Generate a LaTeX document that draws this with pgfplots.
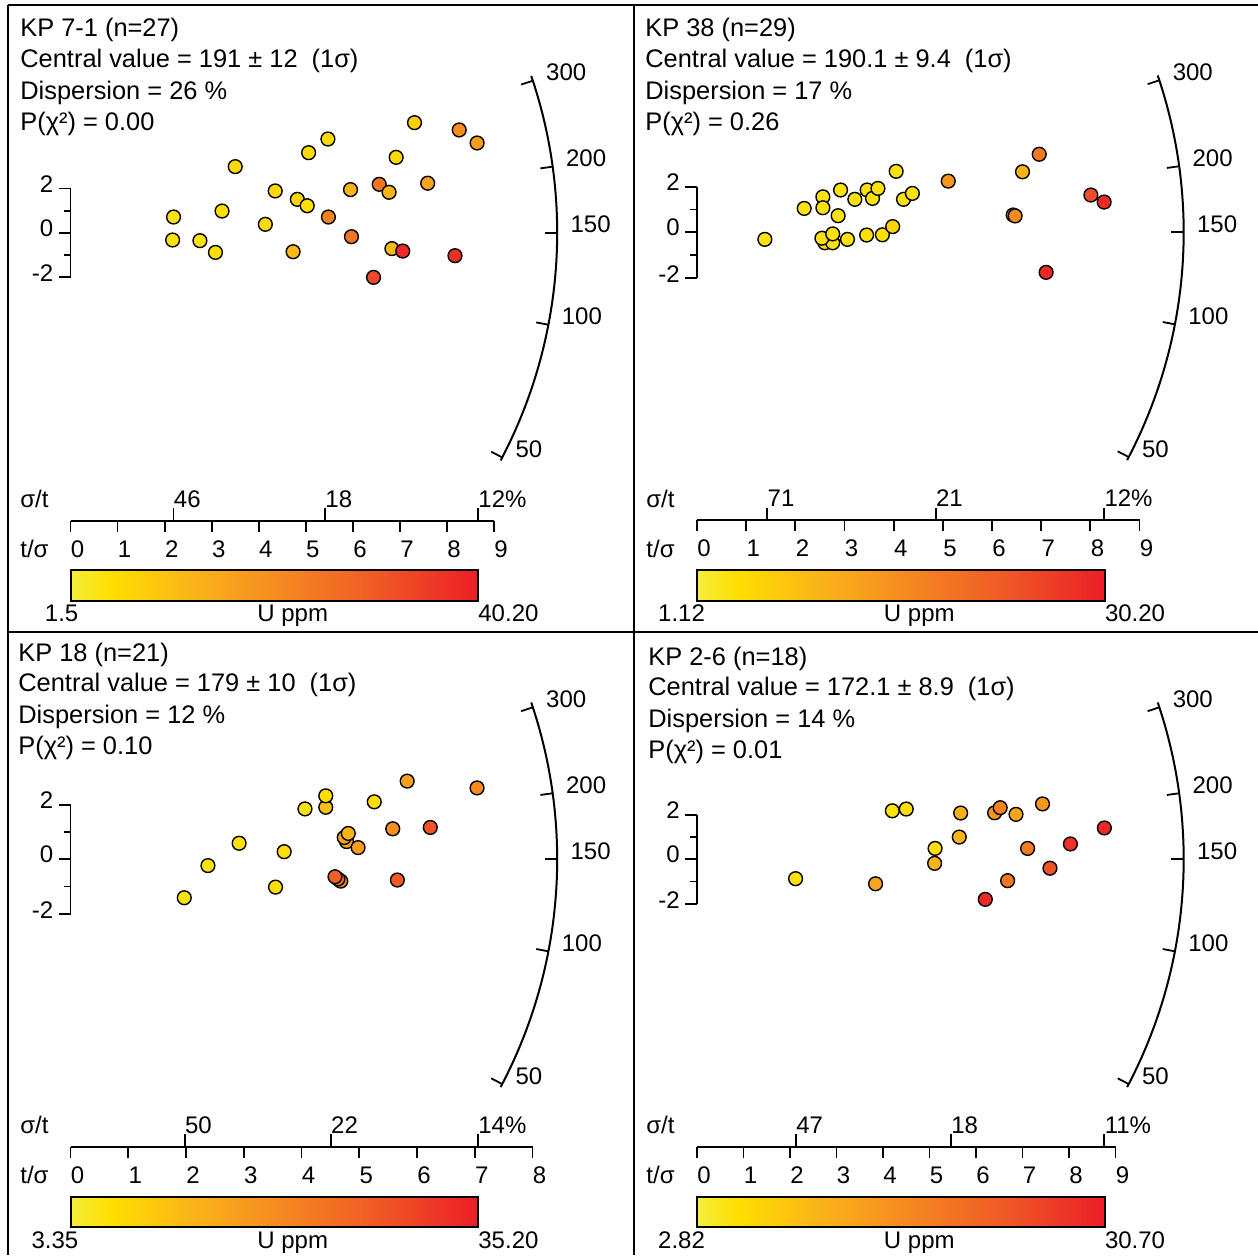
\documentclass[border=0pt]{standalone}
\usepackage{pgfplots}
\pgfplotsset{compat=1.18}
\usepackage{fontspec}
\setmainfont{Liberation Sans}
\pgfplotsset{
  colormap={ypr}{rgb255(0cm)=(244,238,60); rgb255(1cm)=(255,222,0); rgb255(3cm)=(250,180,25); rgb255(5cm)=(246,140,32); rgb255(7.5cm)=(239,90,38); rgb255(10cm)=(236,30,38)},
  radial/.style={hide axis, clip=false, xmin=0, xmax=10, ymin=-15, ymax=15, anchor=west, colormap name=ypr},
  pts/.style={scatter, only marks, mark=*, mark size=3.45pt, scatter src=explicit,
    scatter/use mapped color={draw=black, fill=mapped color}, mark options={line width=0.7pt}},
}
\pgfdeclarehorizontalshading{yprshade}{100bp}{rgb(0bp)=(0.957,0.933,0.235); rgb(25bp)=(0.957,0.933,0.235); rgb(30bp)=(1,0.871,0); rgb(40bp)=(0.980,0.706,0.098); rgb(50bp)=(0.965,0.549,0.125); rgb(62.5bp)=(0.937,0.353,0.149); rgb(75bp)=(0.925,0.118,0.149); rgb(100bp)=(0.925,0.118,0.149)}
\tikzset{axl/.style={line width=0.9pt}, lbl/.style={inner sep=0pt, anchor=base west},
  ttl/.style={inner sep=0pt, anchor=base west, font=\fontsize{12.7}{15}\selectfont}}
% decorations drawn in axis units
\newcommand\scalebar{%
  \draw[axl] (axis cs:0,-2) -- (axis cs:0,2);
  \draw[axl] (axis cs:0,2) -- ([xshift=-6pt]axis cs:0,2);
  \draw[axl] (axis cs:0,0) -- ([xshift=-6pt]axis cs:0,0);
  \draw[axl] (axis cs:0,-2) -- ([xshift=-6pt]axis cs:0,-2);
  \draw[axl] (axis cs:0,1) -- ([xshift=-3.5pt]axis cs:0,1);
  \draw[axl] (axis cs:0,-1) -- ([xshift=-3.5pt]axis cs:0,-1);
  \node[inner sep=0pt, anchor=base east] at ([xshift=-8.5pt,yshift=-1.8pt]axis cs:0,2) {2};
  \node[inner sep=0pt, anchor=base east] at ([xshift=-8.5pt,yshift=-1.8pt]axis cs:0,0) {0};
  \node[inner sep=0pt, anchor=base east] at ([xshift=-8.5pt,yshift=-2.2pt]axis cs:0,-2) {-2};
}
\newcommand\bottomaxis[1]{%
  \draw[axl] (axis cs:0,\yb) -- (axis cs:#1,\yb);
  \pgfplotsinvokeforeach{0,...,#1}{\draw[axl] (axis cs:##1,\yb) -- ([yshift=-5.6pt]axis cs:##1,\yb);
    \node[lbl] at ([yshift=-18.3pt]axis cs:##1,\yb) {##1};}%
}
\newcommand\sigmatick[2]{%
  \draw[axl] (axis cs:#1,\yb) -- ([yshift=6.2pt]axis cs:#1,\yb);
  \node[lbl] at ([yshift=6.7pt]axis cs:#1,\yb) {#2};
}
% arc drawn around a named origin (absolute radius)
\newcommand\arcticks[1]{%
  \draw[line width=1pt] (#1) ++(18.8:243.35pt) arc[start angle=18.8, end angle=-27.9, radius=243.35pt];
  \foreach \a/\l in {18.2/300,7.8/200,0/150,-10.9/100,-27.5/50}{%
    \draw[axl] (#1) ++(\a:243.35pt) -- ++(\a:-6.2pt);
    \path (#1) ++(\a:243.35pt) ++(6.5pt,0pt) node[lbl]{\l};
  }%
}
\newcommand\cbar[7]{% x1 x2 ytop ybot ybase minlabel maxlabel (pixel units)
  \shade[shading=yprshade] (#1,-#3) rectangle (#2,-#4);
  \draw[axl] (#1,-#3) rectangle (#2,-#4);
  \node[inner sep=0pt, anchor=base east] at (#1+8,-#5) {#6};
  \node[inner sep=0pt, anchor=base] at (#1+222,-#5) {U ppm};
  \node[lbl] at (#2,-#5) {#7};
}
\begin{document}
\begin{tikzpicture}[every node/.append style={font=\fontsize{12}{14}\selectfont}]
\begin{scope}[x=0.5pt, y=0.5pt]
\useasboundingbox (0,0) rectangle (1258,-1255);
\draw[line width=0.9pt] (8,-5) -- (1258,-5) (8,-5) -- (8,-1255) (634,-5) -- (634,-1255) (8,-632) -- (1258,-632);
\end{scope}

% ---------------- Panel 1: KP 7-1
\def\yb{-13.03}
\begin{axis}[radial, x=23.53pt, y=11.05pt, at={(35.25pt,-116.35pt)}, point meta min=1.5, point meta max=40.2]
\addplot[pts] table[meta=U]{
x y U
2.19 0.71 4.6
2.17 -0.33 4.6
2.75 -0.36 4.6
3.08 -0.89 5.4
3.22 0.98 5.4
3.50 2.99 6.1
4.14 0.38 6.1
4.35 1.89 6.1
4.73 -0.86 12.3
4.82 1.51 7.3
5.03 1.22 5.4
5.06 3.62 6.1
5.47 4.24 6.1
5.48 0.71 22.8
5.95 1.95 13.1
5.97 -0.18 25.5
6.44 -2.02 33.2
6.56 2.19 25.5
6.77 1.83 13.1
6.83 -0.72 12.3
7.06 -0.83 38.3
6.92 3.41 6.1
7.31 4.98 8.5
7.59 2.24 16.2
8.26 4.65 20.9
8.64 4.06 17.8
8.17 -1.04 37.1
};
\coordinate (O1) at (axis cs:0,0);
\scalebar
\bottomaxis{9}
\sigmatick{2.19}{46}\sigmatick{5.41}{18}\sigmatick{8.66}{12\%}
\end{axis}

% ---------------- Panel 2: KP 38
\def\yb{-12.65}
\begin{axis}[radial, x=24.585pt, y=11.375pt, at={(348.5pt,-116.15pt)}, point meta min=1.12, point meta max=30.2]
\addplot[pts] table[meta=U]{
x y U
1.38 -0.31 3.2
2.18 1.05 3.45
2.56 1.56 3.45
2.56 1.08 3.45
2.60 -0.46 3.45
2.76 -0.46 3.45
2.54 -0.26 3.45
2.76 -0.07 3.45
2.87 0.73 3.45
2.92 1.86 3.45
3.06 -0.31 3.45
3.21 1.45 3.45
3.46 1.86 3.45
3.57 1.49 3.45
3.68 1.93 3.45
3.45 -0.12 4.0
3.77 -0.11 4.0
3.98 0.25 5.5
4.05 2.68 3.45
4.20 1.45 3.45
4.38 1.71 3.45
5.11 2.25 14.2
6.96 3.43 18.6
6.62 2.66 9.8
8.01 1.64 24.4
8.28 1.33 28.7
6.43 0.76 17.1
6.47 0.72 15.7
7.10 -1.76 28.7
};
\coordinate (O2) at (axis cs:0,0);
\scalebar
\bottomaxis{9}
\sigmatick{1.43}{71}\sigmatick{4.855}{21}\sigmatick{8.28}{12\%}
\end{axis}

% ---------------- Panel 3: KP 18
\def\yb{-10.55}
\begin{axis}[radial, x=28.875pt, y=13.625pt, at={(35.25pt,-429.65pt)}, point meta min=3.35, point meta max=35.2]
\addplot[pts] table[meta=U]{
x y U
1.97 -1.41 5.9
2.38 -0.23 5.9
2.92 0.59 5.9
3.55 -1.02 6.5
3.70 0.28 6.5
4.06 1.85 5.9
4.42 1.91 11.3
4.42 2.33 6.5
5.26 2.11 6.5
5.83 2.87 16.1
4.78 0.65 15.5
4.74 0.80 15.5
4.81 0.95 12.9
4.98 0.43 16.7
5.58 1.12 18.6
6.23 1.17 28.2
4.68 -0.80 20.9
4.63 -0.72 22.5
4.58 -0.64 26.3
5.66 -0.76 27.2
7.04 2.62 19.3
};
\coordinate (O3) at (axis cs:0,0);
\scalebar
\bottomaxis{8}
\sigmatick{1.976}{50}\sigmatick{4.508}{22}\sigmatick{7.055}{14\%}
\end{axis}

% ---------------- Panel 4: KP 2-6
\def\yb{-12.92}
\begin{axis}[radial, x=23.25pt, y=11.125pt, at={(348.5pt,-429.65pt)}, point meta min=2.82, point meta max=30.7]
\addplot[pts] table[meta=U]{
x y U
2.12 -0.87 5.0
3.84 -1.10 13.4
4.20 2.18 5.0
4.50 2.26 5.6
5.12 0.49 5.6
5.11 -0.18 11.2
5.64 1.00 11.2
5.67 2.08 11.7
6.40 2.09 15.4
6.52 2.32 18.2
6.86 2.02 13.4
7.43 2.49 15.4
7.11 0.49 19.0
6.68 -0.96 19.5
6.20 -1.80 29.3
7.59 -0.40 24.6
8.03 0.69 28.5
8.76 1.41 29.3
};
\coordinate (O4) at (axis cs:0,0);
\scalebar
\bottomaxis{9}
\sigmatick{2.127}{47}\sigmatick{5.46}{18}\sigmatick{8.76}{11\%}
\end{axis}

\arcticks{O1}\arcticks{O2}\arcticks{O3}\arcticks{O4}

\begin{scope}[x=0.5pt, y=0.5pt]
\node[ttl] at (20,-36.7) {KP 7-1 (n=27)};
\node[ttl] at (20,-67.7) {Central value = 191 ± 12\ \ (1σ)};
\node[ttl] at (20,-99.3) {Dispersion = 26 \%};
\node[ttl] at (20,-130) {P(χ²) = 0.00};
\node[lbl] at (20,-507.3) {σ/t};
\node[lbl] at (20,-557.3) {t/σ};
\cbar{70.7}{478}{570}{600.7}{621.7}{1.5}{40.20}

\node[ttl] at (645,-36.7) {KP 38 (n=29)};
\node[ttl] at (645,-67.7) {Central value = 190.1 ± 9.4\ \ (1σ)};
\node[ttl] at (645,-99.3) {Dispersion = 17 \%};
\node[ttl] at (645,-130) {P(χ²) = 0.26};
\node[lbl] at (646,-507.3) {σ/t};
\node[lbl] at (646,-557.3) {t/σ};
\cbar{697.3}{1104.6}{570}{600.7}{621.7}{1.12}{30.20}

\node[ttl] at (18,-661.7) {KP 18 (n=21)};
\node[ttl] at (18,-691.7) {Central value = 179 ± 10\ \ (1σ)};
\node[ttl] at (18,-723.3) {Dispersion = 12 \%};
\node[ttl] at (18,-754) {P(χ²) = 0.10};
\node[lbl] at (20,-1133.3) {σ/t};
\node[lbl] at (20,-1183.3) {t/σ};
\cbar{70.7}{478}{1196.7}{1226.7}{1248}{3.35}{35.20}

\node[ttl] at (648,-665) {KP 2-6 (n=18)};
\node[ttl] at (648,-695.7) {Central value = 172.1 ± 8.9\ \ (1σ)};
\node[ttl] at (648,-727.3) {Dispersion = 14 \%};
\node[ttl] at (648,-758.3) {P(χ²) = 0.01};
\node[lbl] at (646,-1133.3) {σ/t};
\node[lbl] at (646,-1183.3) {t/σ};
\cbar{697.3}{1104.6}{1196.7}{1226.7}{1248}{2.82}{30.70}
\end{scope}
\end{tikzpicture}
\end{document}
